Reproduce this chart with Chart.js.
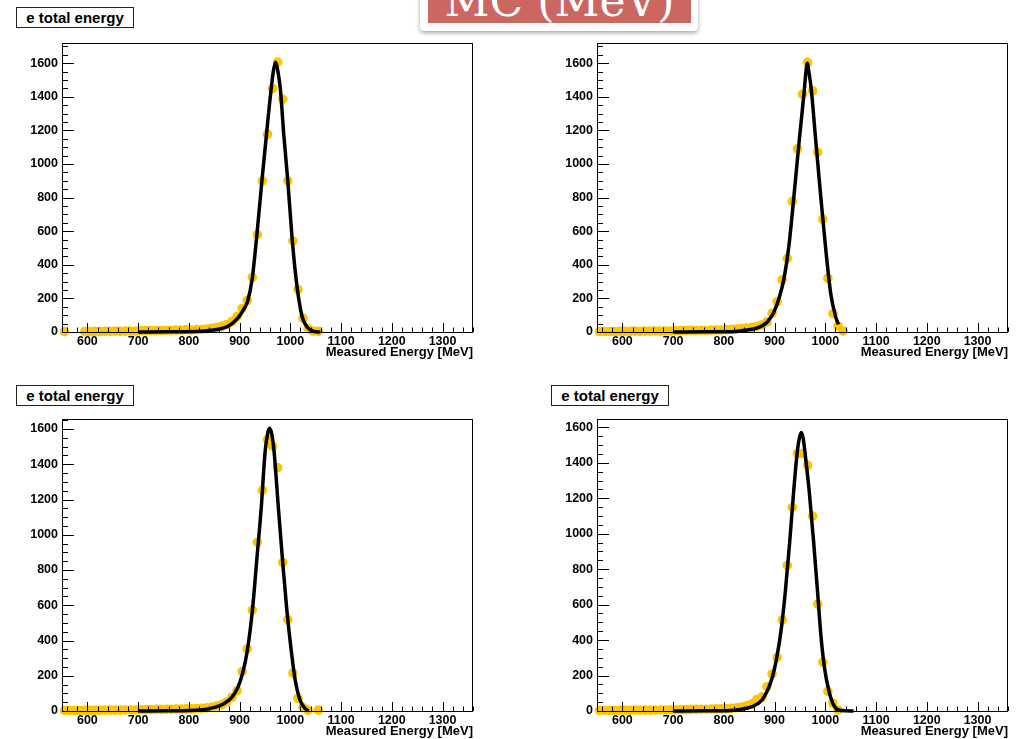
<!DOCTYPE html>
<html>
<head>
<meta charset="utf-8">
<script src="https://cdn.jsdelivr.net/npm/chart.js@4.4.1/dist/chart.umd.min.js"></script>
<style>
  html, body { margin: 0; padding: 0; background: #fff; overflow: hidden; }
  body { width: 1016px; height: 739px; position: relative; font-family: "Liberation Sans", Arial, sans-serif; }
  canvas { position: absolute; }
  .htitle { position: absolute; width: 116px; height: 19px; border: 1px solid #222; background: #fff;
            font-weight: bold; font-size: 15px; line-height: 19px; text-align: center; color: #000; }
  .banner { position: absolute; left: 420px; top: -6px; width: 278px; height: 37px; background: #fff;
            border-radius: 4px; box-shadow: 0 2px 4px rgba(0,0,0,0.35); }
  .banner .red { position: absolute; left: 8px; top: 0; width: 263px; height: 29px; background: #cc6660; overflow: hidden; }
  .banner .txt { position: absolute; left: 0; width: 263px; top: -15px; text-align: center; color: #fff;
                 font-family: "DejaVu Serif", serif; font-size: 44px; line-height: 44px; white-space: nowrap; }
</style>
</head>
<body>
<div class="htitle" style="left:16px; top:7px;">e total energy</div>
<div class="htitle" style="left:16px; top:385px;">e total energy</div>
<div class="htitle" style="left:551px; top:385px;">e total energy</div>

<canvas id="c1" width="500" height="330" style="left:0px; top:36px;"></canvas>
<canvas id="c2" width="481" height="330" style="left:535px; top:36px;"></canvas>
<canvas id="c3" width="500" height="327" style="left:0px; top:412px;"></canvas>
<canvas id="c4" width="481" height="327" style="left:535px; top:412px;"></canvas>

<div class="banner"><div class="red"><div class="txt">MC (MeV)</div></div></div>

<script>
// 10 MeV bins, centres 555 ... 1055
const binCenters = [555, 565, 575, 585, 595, 605, 615, 625, 635, 645, 655, 665, 675, 685, 695,
  705, 715, 725, 735, 745, 755, 765, 775, 785, 795, 805, 815, 825, 835, 845, 855, 865, 875, 885, 895,
  905, 915, 925, 935, 945, 955, 965, 975, 985, 995, 1005, 1015, 1025, 1035, 1045, 1055];

const counts1 = [2, null, null, null, 3, 3, 4, 3, 4, 4, 5, 4, 5, 5, 6,
  7, 8, 9, 8, 9, 9, 10, 11, 12, 13, 12, 14, 15, 18, 22, 27, 35, 45, 62, 92,
  140, 188, 325, 580, 900, 1177, 1448, 1606, 1385, 900, 542, 252, 81, 20, 5, 4];
const counts2 = [3, 3, 3, 3, 4, 4, 4, 5, 4, 5, 5, 6, 5, 6, 6,
  7, 8, 9, 10, 9, 10, 9, 11, 12, 12, 14, 16, 18, 21, 24, 28, 33, 42, 60, 112,
  180, 310, 438, 778, 1090, 1415, 1605, 1436, 1070, 670, 320, 110, 36, 5, null, null];
const counts3 = [3, 3, 3, 3, 4, 4, 4, 4, 5, 5, 5, 5, 6, 6, 6,
  7, 8, 8, 9, 9, 10, 10, 11, 11, 12, 12, 14, 15, 18, 22, 28, 36, 52, 78, 115,
  224, 352, 573, 957, 1252, 1540, 1503, 1381, 843, 519, 215, 72, 19, 5, null, 5];
const counts4 = [3, 3, 3, 3, 4, 4, 4, 5, 5, 5, 5, 6, 6, 6, 7,
  7, 8, 8, 9, 9, 10, 10, 11, 12, 12, 14, 15, 18, 22, 30, 40, 64, 80, 137, 209,
  303, 514, 821, 1148, 1452, 1452, 1386, 1099, 603, 276, 111, 45, 6, null, null, null];

// fitted curves
const fit1X = [700, 760, 823, 842, 869, 885, 898, 908, 916, 925, 934, 944, 953, 962, 967, 971, 975, 980.5, 987, 995, 1003, 1011, 1016, 1023.5, 1033, 1046, 1059];
const fit1Y = [0, 1, 4, 10, 24, 50, 89, 135, 185, 320, 577, 899, 1177, 1441, 1560, 1606, 1560, 1441, 1177, 899, 577, 324, 209, 89, 30, 4, 0];
const fit2X = [700, 760, 813, 839.5, 866, 885.6, 898.7, 908.6, 918.5, 928, 938, 948, 958, 961.5, 964.5, 968, 972.4, 981, 991, 1001, 1010.6, 1020.5, 1026];
const fit2Y = [0, 1, 2, 10, 24, 60, 119, 199, 318, 507, 805, 1123, 1421, 1540, 1600, 1540, 1441, 1143, 805, 487, 229, 89, 45];
const fit3X = [700, 760, 822, 848.5, 868, 884.6, 895.8, 906, 915.5, 925.4, 934, 942.5, 950.3, 955, 959, 963.5, 968, 976.6, 985, 993, 1001.6, 1009.5, 1019, 1029, 1036];
const fit3Y = [0, 1, 6, 19, 40, 78, 129, 215, 348, 576, 862, 1147, 1471, 1570, 1604, 1570, 1471, 1147, 843, 576, 348, 177, 63, 15, 0];
const fit4X = [700, 760, 806, 832.5, 858.7, 875, 885, 895, 904.7, 913, 921, 929.7, 937.5, 944, 948.5, 952.6, 956.5, 960.5, 968.4, 977, 984.8, 991.4, 998, 1006.5, 1016.3, 1026, 1040, 1055.7];
const fit4Y = [0, 1, 2, 9, 28, 62, 110, 185, 308, 460, 668, 951, 1235, 1443, 1535, 1571, 1535, 1443, 1235, 951, 668, 422, 251, 119, 34, 6, 1, 0];

const xTicks = [600, 700, 800, 900, 1000, 1100, 1200, 1300];
const yTicks = [0, 200, 400, 600, 800, 1000, 1200, 1400, 1600];
const xRange = [550, 1360];
const xTitle = 'Measured Energy [MeV]';

const gold = '#fbc500';
const labelFont = { family: 'Liberation Sans', size: 12.5, weight: 'bold' };

// ROOT style frame with inside ticks
const rootFrame = {
  id: 'rootFrame',
  afterDatasetsDraw(chart) {
    const { ctx, chartArea: a, scales: { x, y } } = chart;
    ctx.save();
    ctx.strokeStyle = '#000';
    ctx.lineWidth = 1;
    ctx.beginPath();
    for (let v = 560; v <= xRange[1]; v += 20) {
      const px = Math.round(x.getPixelForValue(v)) + 0.5;
      const len = v % 100 === 0 ? 9 : 4.5;
      ctx.moveTo(px, a.bottom);
      ctx.lineTo(px, a.bottom - len);
    }
    for (let v = 0; v <= y.max; v += 50) {
      const py = Math.round(y.getPixelForValue(v)) + 0.5;
      const len = v % 200 === 0 ? 12 : 6;
      ctx.moveTo(a.left, py);
      ctx.lineTo(a.left + len, py);
    }
    ctx.stroke();
    ctx.strokeRect(Math.round(a.left) + 0.5, Math.round(a.top) + 0.5,
      Math.round(a.right - a.left) - 1, Math.round(a.bottom - a.top));
    ctx.restore();
  }
};

function makePanel(id, counts, fitX, fitY, yMax, padRight, padBottom) {
  const pts = [];
  binCenters.forEach((x, i) => { if (counts[i] !== null) pts.push({ x: x, y: counts[i] }); });
  const fit = fitX.map((x, i) => ({ x: x, y: fitY[i] }));

  new Chart(document.getElementById(id), {
    type: 'scatter',
    data: {
      datasets: [{
        data: fit, showLine: true, borderColor: '#000', borderWidth: 3.5, pointRadius: 0,
        cubicInterpolationMode: 'monotone', order: 0, clip: false
      }, {
        data: pts, showLine: false, pointRadius: 4.8, backgroundColor: gold, borderWidth: 0,
        order: 1, clip: false
      }]
    },
    options: {
      responsive: false,
      animation: false,
      devicePixelRatio: 1,
      layout: { padding: { left: 0, top: 7, right: padRight, bottom: padBottom } },
      plugins: { legend: { display: false }, tooltip: { enabled: false } },
      scales: {
        x: {
          type: 'linear', min: xRange[0], max: xRange[1],
          grid: { display: false, drawTicks: false }, border: { display: false },
          afterBuildTicks: s => { s.ticks = xTicks.map(v => ({ value: v })); },
          afterFit: s => { s.height = 28; s.paddingLeft = 0; s.paddingRight = 0; },
          ticks: { font: labelFont, color: '#000', padding: 2, maxRotation: 0, autoSkip: false,
                   callback: v => String(v) },
          title: { display: true, text: xTitle, align: 'end', color: '#000',
                   font: { family: 'Liberation Sans', size: 13, weight: 'bold' }, padding: 0 }
        },
        y: {
          min: 0, max: yMax,
          grid: { display: false, drawTicks: false }, border: { display: false },
          afterBuildTicks: s => { s.ticks = yTicks.map(v => ({ value: v })); },
          afterFit: s => { s.width = 62; s.paddingTop = 0; s.paddingBottom = 0; },
          ticks: { font: labelFont, color: '#000', padding: 4, autoSkip: false,
                   callback: v => String(v) }
        }
      }
    },
    plugins: [rootFrame]
  });
}

makePanel('c1', counts1, fit1X, fit1Y, 1720, 27, 6);
makePanel('c2', counts2, fit2X, fit2Y, 1720, 8, 6);
makePanel('c3', counts3, fit3X, fit3Y, 1657, 27, 0);
makePanel('c4', counts4, fit4X, fit4Y, 1647, 8, 0);
</script>
</body>
</html>
